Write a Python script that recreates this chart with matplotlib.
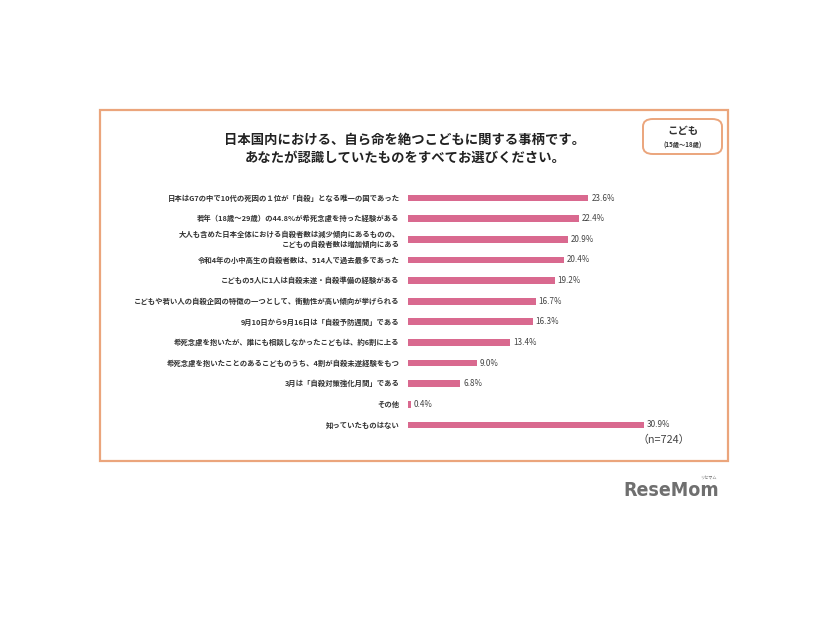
import matplotlib.pyplot as plt
from matplotlib.patches import FancyBboxPatch, Rectangle

plt.rcParams['font.family'] = ['Noto Sans CJK JP', 'DejaVu Sans']

labels = [
    "日本はG7の中で10代の死因の１位が「自殺」となる唯一の国であった",
    "若年（18歳～29歳）の44.8%が希死念慮を持った経験がある",
    "大人も含めた日本全体における自殺者数は減少傾向にあるものの、\nこどもの自殺者数は増加傾向にある",
    "令和4年の小中高生の自殺者数は、514人で過去最多であった",
    "こどもの5人に1人は自殺未遂・自殺準備の経験がある",
    "こどもや若い人の自殺企図の特徴の一つとして、衝動性が高い傾向が挙げられる",
    "9月10日から9月16日は「自殺予防週間」である",
    "希死念慮を抱いたが、誰にも相談しなかったこどもは、約6割に上る",
    "希死念慮を抱いたことのあるこどものうち、4割が自殺未遂経験をもつ",
    "3月は「自殺対策強化月間」である",
    "その他",
    "知っていたものはない",
]
values = [23.6, 22.4, 20.9, 20.4, 19.2, 16.7, 16.3, 13.4, 9.0, 6.8, 0.4, 30.9]

W, H = 826, 620
bar_color = '#D9698F'
frame_color = '#EBA57C'


def fx(x):
    return x / W


def fy(y):
    return 1 - y / H


fig = plt.figure(figsize=(W / 100, H / 100), dpi=100)
fig.patch.set_facecolor('white')

# outer frame
fig.patches.append(Rectangle((fx(100), fy(461)), fx(728) - fx(100), fy(110) - fy(461),
                             transform=fig.transFigure, fill=False,
                             edgecolor=frame_color, linewidth=1.6))

# badge box
fig.patches.append(FancyBboxPatch((fx(643), fy(154)), fx(722) - fx(643), fy(119) - fy(154),
                                  boxstyle='round,pad=0,rounding_size=0.012',
                                  transform=fig.transFigure, fill=False,
                                  edgecolor=frame_color, linewidth=1.4))
fig.text(fx(683), fy(131), "こども", ha='center', va='center', fontsize=7.5,
         fontweight='bold', color='#333333')
fig.text(fx(683), fy(145), "(15歳～18歳)", ha='center', va='center', fontsize=4.5,
         fontweight='bold', color='#333333')

# title
fig.text(fx(405), fy(140), "日本国内における、自ら命を絶つこどもに関する事柄です。",
         ha='center', va='center', fontsize=9.6, fontweight='bold', color='#222222')
fig.text(fx(405), fy(158), "あなたが認識していたものをすべてお選びください。",
         ha='center', va='center', fontsize=9.6, fontweight='bold', color='#222222')

# bars
x0, scale = 408, 7.64
xmax = 40
top, bottom = 198 - 10.3, 425 + 10.3
ax = fig.add_axes([fx(x0), fy(bottom), xmax * scale / W, (bottom - top) / H])
ypos = list(range(len(values)))
ax.barh(ypos, values, height=0.33, color=bar_color)
ax.set_xlim(0, xmax)
ax.set_ylim(len(values) - 0.5, -0.5)
ax.axis('off')

for y, v, lab in zip(ypos, values, labels):
    ax.text(v + 0.4, y, f"{v:.1f}%", ha='left', va='center', fontsize=5.8,
            color='#444444')
    ax.annotate(lab, xy=(0, y), xytext=(-6, 0), textcoords='offset points',
                ha='right', va='center', fontsize=5.3, fontweight='bold',
                color='#333333', multialignment='right', linespacing=1.25)

fig.text(fx(664), fy(440), "（n=724）", ha='center', va='center', fontsize=7.8,
         color='#444444')

# logo
fig.text(fx(671), fy(491), "ReseMom", ha='center', va='center', fontsize=14,
         fontweight='bold', color='#6f6f6f', family=['DejaVu Sans'],
         fontstretch='condensed')
fig.text(fx(708), fy(478), "リセマム", ha='center', va='center', fontsize=3,
         color='#6f6f6f')

fig.savefig('out.png', dpi=100)
